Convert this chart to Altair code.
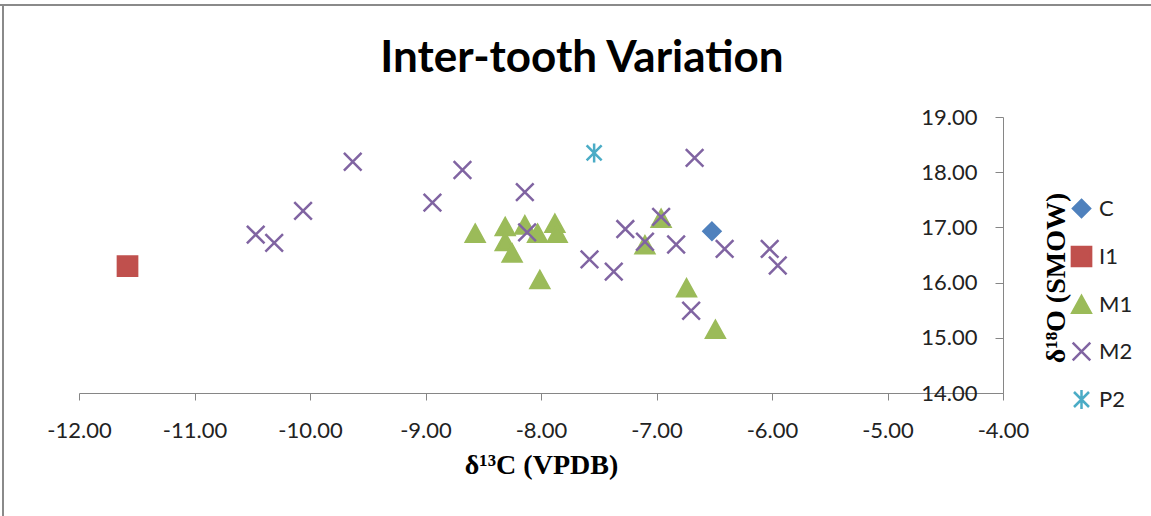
import altair as alt
import pandas as pd

# ---- data ----
c_x = [-6.52]
c_y = [16.93]
i1_x = [-11.58]
i1_y = [16.30]
m1_x = [-8.57, -8.31, -8.31, -8.25, -8.14, -8.03, -8.01, -7.88, -7.86, -6.96, -7.10, -6.74, -6.49]
m1_y = [16.89, 17.01, 16.74, 16.53, 17.04, 16.89, 16.05, 17.07, 16.89, 17.16, 16.68, 15.90, 15.15]
m2_x = [-10.47, -10.31, -10.06, -9.63, -8.94, -8.68, -8.14, -8.12, -7.58, -7.37, -7.27, -7.10,
        -6.96, -6.83, -6.67, -6.41, -6.70, -6.02, -5.95]
m2_y = [16.87, 16.72, 17.30, 18.19, 17.45, 18.04, 17.64, 16.91, 16.42, 16.20, 16.97, 16.74,
        17.19, 16.69, 18.26, 16.61, 15.49, 16.61, 16.31]
p2_x = [-7.54]
p2_y = [18.35]

series_names = ["C", "I1", "M1", "M2", "P2"]
series_colors = ["#4F81BD", "#C0504D", "#9BBB59", "#8064A2", "#4BACC6"]

chart_title = "Inter-tooth Variation"
x_title = "δ¹³C (VPDB)"
y_title = "δ¹⁸O (SMOW)"
x_ticks = [-12, -11, -10, -9, -8, -7, -6, -5, -4]
y_ticks = [14, 15, 16, 17, 18, 19]

rows = []
for name, xs, ys in [("C", c_x, c_y), ("I1", i1_x, i1_y), ("M1", m1_x, m1_y),
                     ("M2", m2_x, m2_y), ("P2", p2_x, p2_y)]:
    for a, b in zip(xs, ys):
        rows.append({"series": name, "d13C": a, "d18O": b})
df = pd.DataFrame(rows)

W, H = 924, 276
PAD_L, PAD_T = 79, 117

shapes = [
    "M0,-0.85L0.85,0L0,0.85L-0.85,0Z",                      # diamond
    "M-0.96,-0.96L0.96,-0.96L0.96,0.96L-0.96,0.96Z",        # square
    "M0,-0.85L0.92,0.82L-0.92,0.82Z",                        # triangle
    "M-0.88,-0.88L0.88,0.88M-0.88,0.88L0.88,-0.88",          # x
    "M-0.75,-0.75L0.75,0.75M-0.75,0.75L0.75,-0.75M0,-0.95L0,0.95",  # star
]

axis_gray = "#868686"
label_font = "Lato"
label_expr = "replace(format(datum.value, '.2f'), '\u2212', '-')"

legend = alt.Legend(title=None, orient="none", legendX=991, legendY=80,
                    symbolSize=400, symbolStrokeWidth=2.5, labelFont=label_font,
                    labelFontSize=22, labelColor="#222222", labelOffset=6,
                    rowPadding=19, padding=0)

points = alt.Chart(df).mark_point(filled=True, size=400, strokeWidth=2.5, opacity=1).encode(
    x=alt.X("d13C:Q",
            scale=alt.Scale(domain=[-12, -4], nice=False, zero=False),
            axis=alt.Axis(title=x_title, labelExpr=label_expr, values=x_ticks,
                          grid=False, domainColor=axis_gray, tickColor=axis_gray,
                          tickSize=7, labelPadding=20, labelFont=label_font, labelFontSize=22,
                          labelFlush=False, labelOverlap=False,
                          labelColor="#222222", titleFont="Liberation Serif", titleFontSize=28,
                          titleFontWeight="bold", titleColor="#000000", titlePadding=10)),
    y=alt.Y("d18O:Q",
            scale=alt.Scale(domain=[14, 19], nice=False, zero=False),
            axis=alt.Axis(title=None, orient="left", offset=-W, labelExpr=label_expr,
                          values=y_ticks, grid=False, labelFlush=False, labelOverlap=False,
                          domainColor=axis_gray, tickColor=axis_gray, tickSize=8,
                          labelPadding=18, labelFont=label_font, labelFontSize=22,
                          labelColor="#222222")),
    fill=alt.Fill("series:N", scale=alt.Scale(domain=series_names, range=series_colors),
                  legend=legend),
    stroke=alt.Stroke("series:N", scale=alt.Scale(domain=series_names, range=series_colors),
                      legend=legend),
    shape=alt.Shape("series:N", scale=alt.Scale(domain=series_names, range=shapes),
                    legend=legend),
)

ytitle = alt.Chart(pd.DataFrame({"t": [y_title]})).mark_text(
    angle=270, font="Liberation Serif", fontSize=28, fontWeight="bold", color="#000000",
    align="center", baseline="middle"
).encode(text="t:N", x=alt.value(978), y=alt.value(161))

title_text = alt.Chart(pd.DataFrame({"t": [chart_title]})).mark_text(
    font="Lato", fontSize=44, fontWeight="bold", color="#000000",
    align="center", baseline="alphabetic"
).encode(text="t:N", x=alt.value(582 - PAD_L), y=alt.value(72 - PAD_T))

frame_df = pd.DataFrame({"k": [0]})
top_border = alt.Chart(frame_df).mark_rule(color="#8A8A8A", strokeWidth=2).encode(
    x=alt.value(-PAD_L), x2=alt.value(1151 - PAD_L), y=alt.value(5 - PAD_T))
left_border = alt.Chart(frame_df).mark_rule(color="#8A8A8A", strokeWidth=2).encode(
    x=alt.value(3 - PAD_L), y=alt.value(5 - PAD_T), y2=alt.value(516 - PAD_T))

chart = alt.layer(points, ytitle, title_text, top_border, left_border).properties(
    width=W, height=H,
    background="white",
    autosize=alt.AutoSizeParams(type="none"),
    padding={"left": PAD_L, "top": PAD_T, "right": 1151 - PAD_L - W, "bottom": 516 - PAD_T - H},
).configure_view(stroke=None)

chart.save("out.html", embed_options={"renderer": "svg", "actions": False})
